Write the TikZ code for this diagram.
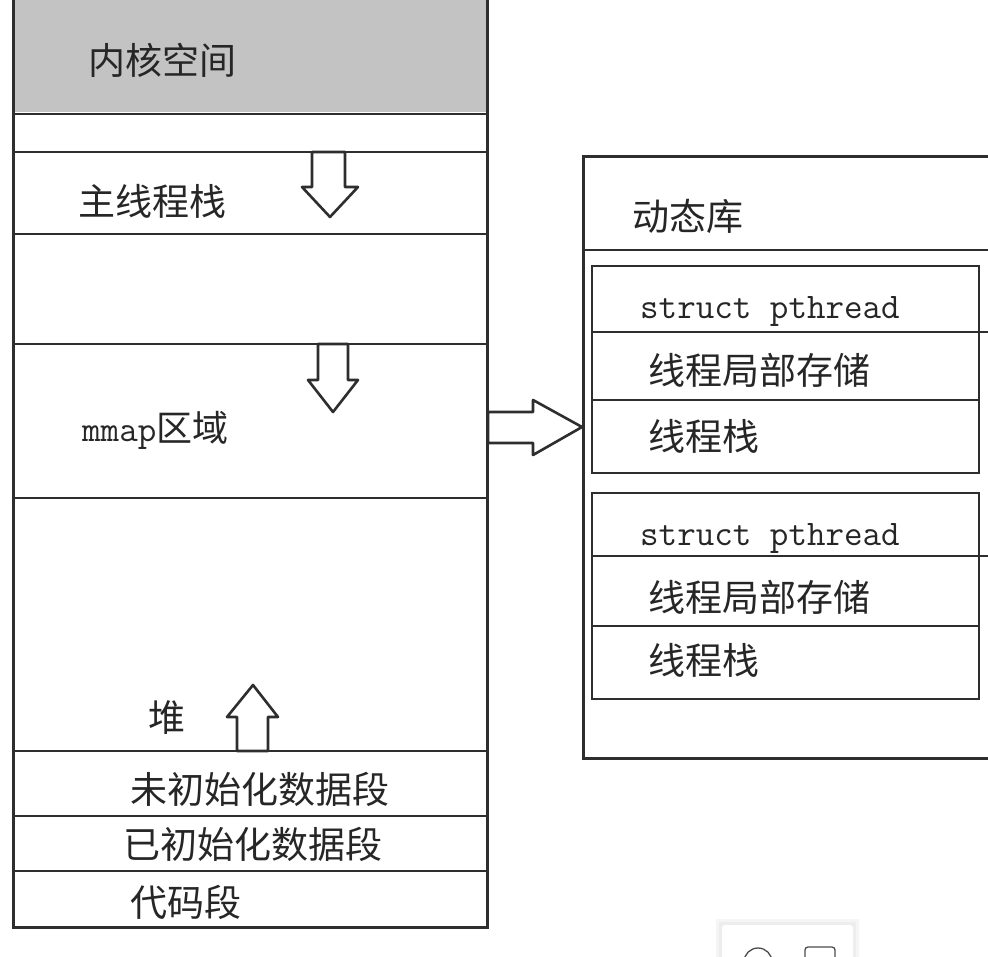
\documentclass[tikz,border=0pt]{standalone}
\usepackage{fontspec}
\newfontfamily\cjkfont{Noto Sans CJK SC}
\definecolor{ink}{HTML}{2E2E2E}
\definecolor{txt}{HTML}{262626}
\definecolor{kgray}{HTML}{C3C3C3}
\tikzset{
  sketch/.style={draw=ink, line width=3pt},
  thin sketch/.style={draw=ink, line width=2.6pt},
  blockarrow/.style={draw=ink, line width=2.6pt, fill=white, line join=round},
  cjk/.style={anchor=west, inner sep=0pt, yshift=-10pt, text=txt, font=\cjkfont\fontsize{37}{42}\selectfont, text height=0.8em, text depth=0.2em},
  mono/.style={anchor=west, inner sep=0pt, yshift=-9pt, text=txt, font=\ttfamily\fontsize{36}{42}\selectfont, text height=0.8em, text depth=0.2em}
}
\begin{document}
\begin{tikzpicture}[x=1pt,y=-1pt]
\useasboundingbox (0,0) rectangle (988,957);
\fill[white] (0,0) rectangle (988,957);
\begin{scope}
\clip (0,0) rectangle (988,957);
% ---------------- left panel ----------------
\fill[kgray] (13,-5) rectangle (487,112);
\draw[sketch] (13,-5) -- (13,927) -- (487,927) -- (487,-5);
\foreach \yy in {114,152,234,344,498,751,816,871}
  \draw[thin sketch] (13,\yy) -- (487,\yy);
% ---------------- right panel ----------------
\draw[sketch] (1000,157) -- (583,157) -- (583,758) -- (1000,758);
\draw[thin sketch] (583,250) -- (1000,250);
% inner box 1
\draw[thin sketch] (592,266) rectangle (979,473);
\draw[thin sketch] (592,332) -- (988,332);
\draw[thin sketch] (592,400) -- (979,400);
% inner box 2
\draw[thin sketch] (592,493) rectangle (979,699);
\draw[thin sketch] (592,556) -- (988,556);
\draw[thin sketch] (592,626) -- (979,626);
% ---------------- block arrows ----------------
\draw[blockarrow] (312,152) -- (345,152) -- (345,187) -- (358,187) -- (330,217) -- (302,187) -- (312,187) -- cycle;
\draw[blockarrow] (318,344) -- (348,344) -- (348,380) -- (358,380) -- (333,412) -- (308,380) -- (318,380) -- cycle;
\draw[blockarrow] (237,751) -- (237,717) -- (227,717) -- (253,685) -- (278,717) -- (268,717) -- (268,751) -- cycle;
\draw[blockarrow] (488,412) -- (533,412) -- (533,400) -- (582,427) -- (533,455) -- (533,443) -- (488,443) -- cycle;
% ---------------- texts ----------------
\node[cjk] (kernel) at (88,62) {内核空间};
\node[cjk] (mainstack) at (78,203) {主线程栈};
\node[mono] (mmap) at (82,429) {mmap\cjkfont 区域};
\node[cjk] (heap) at (148,718) {堆};
\node[cjk] (bss) at (130,790) {未初始化数据段};
\node[cjk] (data) at (123,845) {已初始化数据段};
\node[cjk] (text) at (130,903) {代码段};
\node[cjk] (dynlib) at (632,218) {动态库};
\node[mono] (pt1) at (640,307) {struct pthread};
\node[cjk] (tls1) at (648,372) {线程局部存储};
\node[cjk] (ts1) at (648,437) {线程栈};
\node[mono] (pt2) at (640,533) {struct pthread};
\node[cjk] (tls2) at (648,598) {线程局部存储};
\node[cjk] (ts2) at (648,661) {线程栈};
% ---------------- overlay toolbar (cut off) ----------------
\fill[black!4] (716,919) rectangle (859,965);
\fill[black!7] (719,922) rectangle (856,965);
\fill[white, rounded corners=3pt] (722,925) rectangle (853,970);
\draw[black!70, line width=1.3pt] (758,962) circle (14);
\draw[black!70, line width=1.3pt, rounded corners=3pt] (805,970) -- (805,947) -- (835,947) -- (835,970);
\end{scope}
\end{tikzpicture}
\end{document}
